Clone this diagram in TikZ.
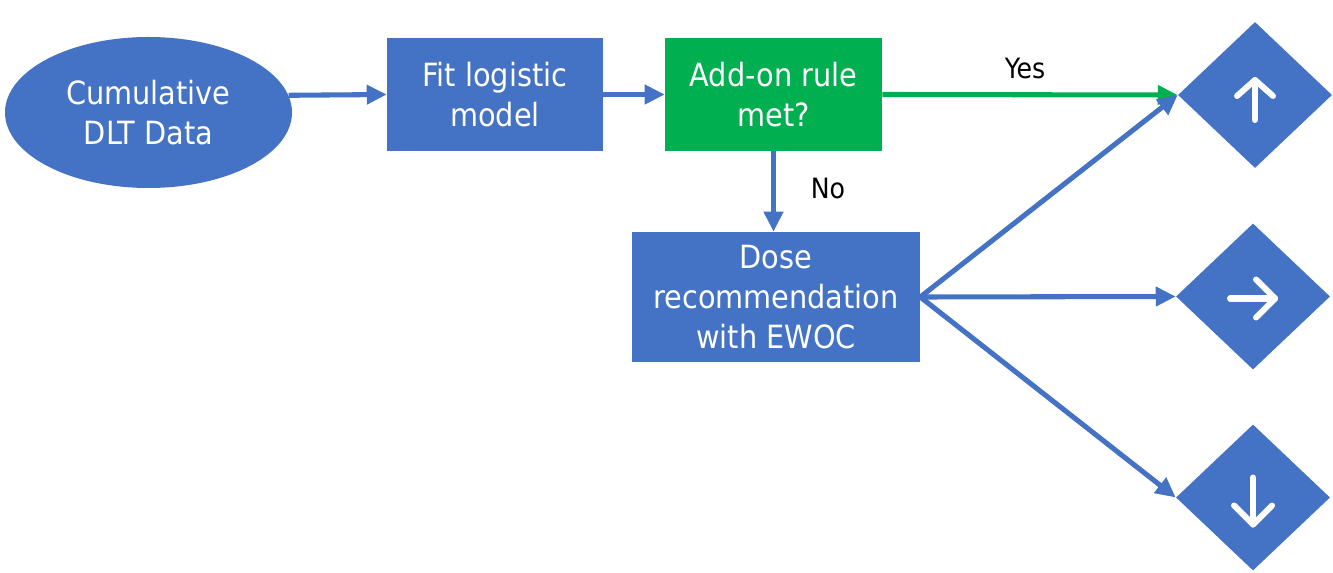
\documentclass[tikz,border=0pt]{standalone}
\usepackage{fontspec}
\setmainfont{DejaVu Sans Condensed}
\usetikzlibrary{shapes.geometric,arrows.meta}
\definecolor{cblue}{HTML}{4472C4}
\definecolor{cgreen}{HTML}{00B050}
\tikzset{
  box/.style={rectangle, fill=cblue, text=white, inner sep=0pt, align=center,
    font=\fontsize{24}{30}\selectfont},
  ell/.style={ellipse, fill=cblue, text=white, inner sep=0pt, align=center,
    font=\fontsize{24}{30}\selectfont},
  dia/.style={diamond, fill=cblue, inner sep=0pt, minimum width=115.5pt, minimum height=109.5pt},
  arr/.style={draw=cblue, line width=3.8pt, -{Triangle[length=15pt,width=14pt]}},
  garr/.style={draw=cgreen, line width=3.8pt, -{Triangle[length=15pt,width=14pt]}},
  wa/.style={draw=white, line width=4.5pt, line cap=round, line join=round},
  lbl/.style={font=\fontsize{21}{24}\selectfont, text=black}
}
\begin{document}
\begin{tikzpicture}[x=0.75pt,y=-0.75pt]
\useasboundingbox (0,0) rectangle (1333,573);
\node[ell, minimum width=215.25pt, minimum height=113.25pt] (e) at (148.5,112.5) {Cumulative\\DLT Data};
\node[box, minimum width=162pt, minimum height=84.75pt] (fit) at (495,94.5) {Fit logistic\\model};
\node[box, fill=cgreen, minimum width=162.75pt, minimum height=84.75pt] (add) at (773.5,94.5) {Add-on rule\\met?};
\node[box, minimum width=216pt, minimum height=97.5pt] (dose) at (776,297) {Dose\\recommendation\\with EWOC};
\node[dia] (d1) at (1255,95) {};
\node[dia] (d2) at (1253,296.5) {};
\node[dia] (d3) at (1253,497.5) {};
\draw[arr] (e.7) -- (fit.west);
\draw[arr] (fit.east) -- (add.west);
\draw[garr] (add.east) -- (d1.west);
\draw[arr] (add.south) -- (add.south |- dose.north);
\draw[arr] (dose.east) -- (d1.west);
\draw[arr] (dose.east) -- (d2.west);
\draw[arr] (dose.east) -- (d3.west);
\node[lbl] (yes) at (1025,68) {Yes};
\node[lbl] (no) at (828,188) {No};
% white arrows
\draw[wa] (d1.center) ++(0,25) -- ++(0,-40);
\draw[wa] (d1.center) ++(-18,1) -- ++(18,-16) -- ++(18,16);
\draw[wa] (d2.center) ++(-23,2) -- ++(45,0);
\draw[wa] (d2.center) ++(3,-17) -- ++(19,19) -- ++(-19,19);
\draw[wa] (d3.center) ++(0,-20) -- ++(0,47);
\draw[wa] (d3.center) ++(-19,8) -- ++(19,19) -- ++(19,-19);
\end{tikzpicture}
\end{document}
